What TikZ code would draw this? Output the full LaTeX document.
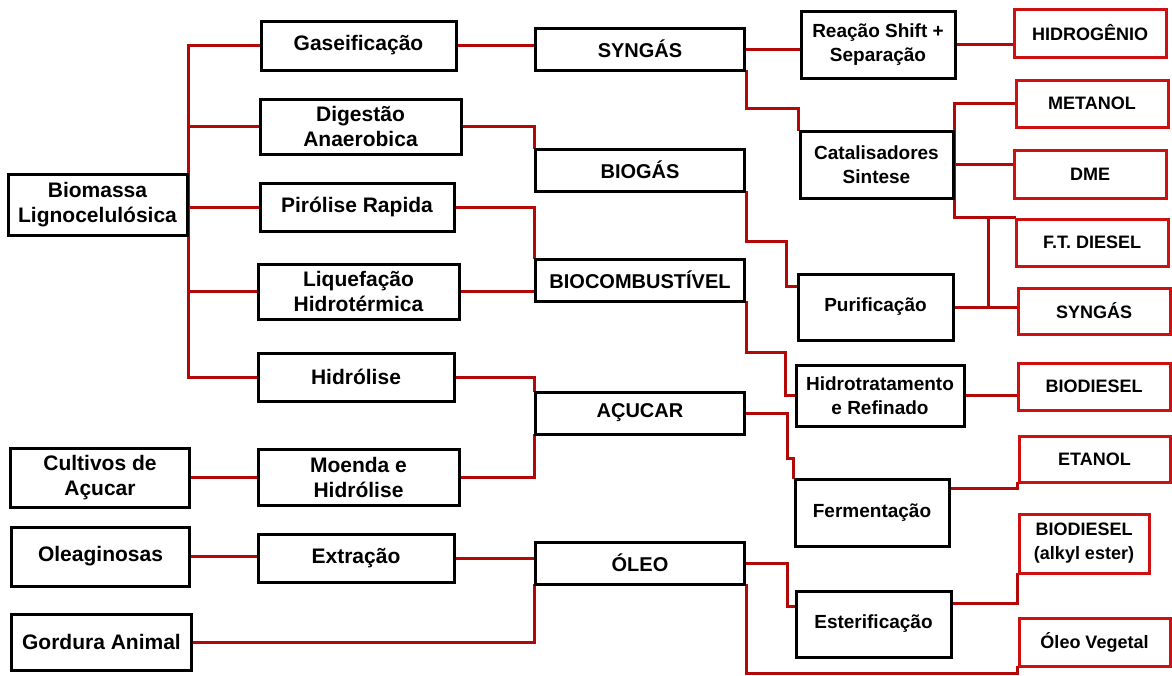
\documentclass[tikz,border=0pt]{standalone}
\usepackage{fontspec}
\setmainfont{Liberation Sans}
\usetikzlibrary{
	calc,          %计算
	positioning,   %定位
	backgrounds    %背景路径
}
\definecolor{linkred}{RGB}{178,8,8}
\definecolor{prodred}{RGB}{206,16,16}
\tikzset{
	every picture/.style={line join=miter},
	sz/.style 2 args={minimum width=#1,minimum height=#2},
	box/.style={draw=black,line width=3pt,fill=white,inner sep=0pt,align=center},
	src/.style={box,font=\bfseries\fontsize{21}{25}\selectfont},
	proc/.style={box,font=\bfseries\fontsize{21}{25}\selectfont},
	mid/.style={box,font=\bfseries\fontsize{20}{24}\selectfont},
	proctwo/.style={box,font=\bfseries\fontsize{19}{24}\selectfont},
	prod/.style={box,draw=prodred,font=\bfseries\fontsize{18}{24}\selectfont},
	link/.style={draw=linkred,line width=3pt,line cap=rect}
}

\begin{document}
\begin{tikzpicture}[x=1pt,y=-1pt]
\useasboundingbox (0,0) rectangle (1172,675);

%原料
\node[src,sz={179}{61}] (bio) at (97.5,204.5) {Biomassa\\Lignocelulósica};
\node[src,sz={179}{59}] (cult) at (100,477.5) {Cultivos de\\Açucar};
\node[src,sz={178}{59}] (olea) at (100.5,556.5) {Oleaginosas};
\node[src,sz={180}{56}] (gord) at (101.5,642) {Gordura Animal};

%第一级处理
\node[proc,sz={195}{49}] (gas) at (358.5,45.5) {Gaseificação};
\node[proc,sz={201}{55}] (dig) at (360.5,126.5) {Digestão\\Anaerobica};
\node[proc,sz={194}{48}] (pir) at (357,207) {Pirólise Rapida};
\node[proc,sz={201}{55}] (liq) at (358.5,291.5) {Liquefação\\Hidrotérmica};
\node[proc,sz={196}{48}] (hid) at (356,377) {Hidrólise};
\node[proc,sz={201}{56}] (moe) at (358.5,477) {Moenda e\\Hidrólise};
\node[proc,sz={196}{48}] (ext) at (356,558) {Extração};

%中间产物
\foreach \n/\y/\t in {syn/49/SYNGÁS,biog/170/BIOGÁS,bioc/280/BIOCOMBUSTÍVEL,acu/413/AÇUCAR,oleo/563/ÓLEO}
\node[mid,sz={209}{42}] (\n) at (640,\y) {\t};

%第二级处理
\node[proctwo,sz={154}{67}] (shift) at (878,44.5) {Reação Shift +\\Separação};
\node[proctwo,sz={153}{67}] (cat) at (876.5,164.5) {Catalisadores\\Sintese};
\node[proctwo,sz={155}{66}] (pur) at (875.5,307) {Purificação};
\node[proctwo,sz={168}{61}] (hidt) at (880,395.5) {Hidrotratamento\\e Refinado};
\node[proctwo,sz={154}{67}] (ferm) at (872,512.5) {Fermentação};
\node[proctwo,sz={155}{66}] (est) at (873.5,624) {Esterificação};

%最终产品
\node[prod,sz={152}{48}] (h2) at (1090,33) {HIDROGÊNIO};
\node[prod,sz={152}{47}] (meoh) at (1092,103.5) {METANOL};
\node[prod,sz={152}{48}] (dme) at (1090,174) {DME};
\node[prod,sz={152}{47}] (ftd) at (1092,242.5) {F.T. DIESEL};
\node[prod,sz={152}{46}] (syntwo) at (1094,311) {SYNGÁS};
\node[prod,sz={152}{47}] (biod) at (1094,386.5) {BIODIESEL};
\node[prod,sz={151}{46}] (etoh) at (1094.5,459) {ETANOL};
\node[prod,sz={130}{59}] (alk) at (1084,543.5) {BIODIESEL\\(alkyl ester)};
\node[prod,sz={151}{48}] (ov) at (1094.5,642) {Óleo Vegetal};

\begin{scope}[on background layer]
\fill[white] (0,0) rectangle (1172,675);
%原料到第一级
\draw[link] (bio.east |- gas.west) -- (bio.east |- hid.west);
\foreach \n in {gas,dig,pir,liq,hid}
\draw[link] (bio.east |- \n.west) -- (\n.west);
\draw[link] (cult.east) -- (cult.east -| moe.west);
\draw[link] (olea.east) -- (olea.east -| ext.west);

%第一级到中间产物
\draw[link] (gas.east) -- (gas.east -| syn.west);
\draw[link] (dig.east) -| (biog.north west);
\draw[link] (pir.east) -| (bioc.north west);
\draw[link] (liq.east) -- (liq.east -| bioc.west);
\draw[link] (hid.east) -| (acu.north west);
\draw[link] (moe.east) -| (acu.south west);
\draw[link] (ext.east) -- (ext.east -| oleo.west);
\draw[link] (gord.east) -| (oleo.south west);

%中间产物到第二级
\draw[link] (syn.east) -- (syn.east -| shift.west);
\draw[link] (syn.south east) -- ++(0,37) -| (cat.north west);
\draw[link] (biog.south east) -- ++(0,49) -- ++(40,0) |- ($(pur.north west)!0.2!(pur.south west)$);
\draw[link] (bioc.south east) -- ++(0,50) -| ($(hidt.west)+(-9,0)$) -- (hidt.west);
\draw[link] (acu.east) -- ++(41,0) -- ++(0,45) -| (ferm.north west);
\draw[link] (oleo.east) -- ++(41,0) |- ($(est.north west)!0.25!(est.south west)$);
\draw[link] (oleo.south east) |- ($(ov.south west)+(0,6)$) -- (ov.south west);

%第二级到产品
\draw[link] (shift.east) -- (shift.east -| h2.west);
\draw[link] (meoh.west) -| (cat.east |- ftd.north west) -- (ftd.north west);
\draw[link] (cat.east) -- (cat.east -| dme.west);
\draw[link] (pur.east) -- (pur.east -| syntwo.west);
\coordinate (pj) at ($(pur.east)!0.55!(pur.east -| syntwo.west)$);
\draw[link] (pj) -- (pj |- ftd.north);
\draw[link] (hidt.east) -- (hidt.east -| biod.west);
\draw[link] ($(ferm.north east)!0.15!(ferm.south east)$) -| (etoh.south west);
\draw[link] ($(est.north east)!0.2!(est.south east)$) -| (alk.south west);
\end{scope}

\end{tikzpicture}
\end{document}
